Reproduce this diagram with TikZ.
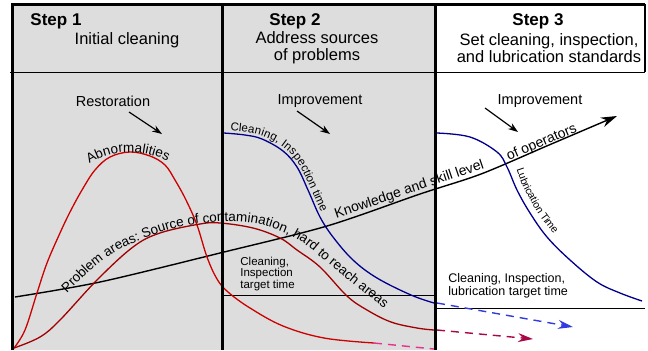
\documentclass[tikz,border=0pt]{standalone}
\usepackage{fontspec}
\setmainfont{Liberation Sans}
\usepackage{xcolor}
\usepackage{tikz}
\usetikzlibrary{arrows.meta,decorations.text}
\definecolor{panelgray}{RGB}{221,221,221}
\definecolor{abnred}{RGB}{204,0,0}
\definecolor{probred}{RGB}{160,0,0}
\definecolor{timeblue}{RGB}{0,0,140}
\definecolor{dashblue}{RGB}{50,60,220}
\definecolor{dashcrim}{RGB}{168,8,70}
\definecolor{dashpink}{RGB}{232,50,138}
\tikzset{
  frameline/.style={line width=1.5pt},
  thinline/.style={line width=0.5pt},
  stephd/.style={font=\fontsize{8.5}{10}\selectfont\bfseries, inner sep=0pt},
  stepsub/.style={font=\fontsize{8.25}{8.5}\selectfont, align=center, inner sep=0pt},
  lbl/.style={font=\fontsize{7.25}{8}\selectfont, inner sep=0pt},
  target/.style={font=\fontsize{5.75}{5.75}\selectfont, align=left, inner sep=0pt, anchor=west},
  target3/.style={font=\fontsize{6.25}{6.5}\selectfont, align=left, inner sep=0pt, anchor=west},
  impr/.style={-{Stealth[length=5pt,width=3.5pt]}, line width=0.6pt},
  abncurve/.style={line width=0.65pt, abnred},
  probcurve/.style={line width=0.65pt, probred},
  timecurve/.style={line width=0.65pt, timeblue},
  dashbase/.style={line width=0.7pt, dash pattern=on 4pt off 3pt},
  bluedash/.style={dashbase, dashblue, -{Stealth[length=7.5pt,width=4.5pt]}},
  crimdash/.style={dashbase, dashcrim, -{Stealth[length=7.5pt,width=4.5pt]}},
  pinkdash/.style={dashbase, dashpink},
  skillarrow/.style={-{Stealth[length=8pt,width=5pt]}, line width=0.7pt},
}
\newcommand{\curvefont}{\fontsize{6.75}{7.5}\selectfont}
\newcommand{\skillfont}{\fontsize{7}{7.5}\selectfont}
\newcommand{\ctfont}{\fontsize{5.75}{6}\selectfont}
\newcommand{\lubfont}{\fontsize{5.25}{6}\selectfont}

\begin{document}
\begin{tikzpicture}[x=0.5pt,y=-0.5pt]
\useasboundingbox (0,0) rectangle (648,350);
\fill[panelgray] (12,4) rectangle (435,350);
\draw[thinline] (10,72) -- (645,72);
\draw[thinline] (222,295) -- (435,295);
\draw[thinline] (435,308) -- (645,308);

\node[stephd] (s1) at (56,21) {Step 1};
\node[stepsub] (s1t) at (127,40) {Initial cleaning};
\node[stephd] (s2) at (295,21) {Step 2};
\node[stepsub] (s2t) at (317,48) {Address sources\\of problems};
\node[stephd] (s3) at (538,21) {Step 3};
\node[stepsub] (s3t) at (549,48.5) {Set cleaning, inspection,\\and lubrication standards};

\node[lbl] (rest) at (113,101) {Restoration};
\node[lbl] (imp2) at (320,101) {Improvement};
\node[lbl] (imp3) at (540,101) {Improvement};
\coordinate (ra) at (129,112);
\coordinate (rb) at (162,134);
\coordinate (ia) at (297,111);
\coordinate (ib) at (330,134);
\coordinate (ja) at (485,108);
\coordinate (jb) at (518,132);
\draw[impr] (ra) -- (rb);
\draw[impr] (ia) -- (ib);
\draw[impr] (ja) -- (jb);

\draw[skillarrow] plot[smooth] coordinates {(15,297) (100,282) (220,253) (327,226) (420,194) (481,174) (549,145) (617,116)};
\path[decorate, decoration={text along path, raise=2pt, text align={left indent=3pt}, text={|\skillfont|Knowledge and skill level}}]
  (332,224) -- (492,170);
\path[decorate, decoration={text along path, raise=2pt, text align={left indent=3pt}, text={|\skillfont|of operators}}]
  (505,167) -- (605,124);

\draw[abncurve] plot[smooth, tension=0.6] coordinates {(14,348) (25,330) (37,293) (47,263) (60,233) (70,212) (82,190) (95,170) (110,157) (130,152) (150,156) (165,165) (175,180) (186,200) (197,225) (207,257) (217,279) (228,292) (250,308) (283,326) (324,338) (374,343)};
\draw[pinkdash] (374,343) -- (434,349);
\path[decorate, decoration={text along path, text align=center, text={|\curvefont|Abnormalities}}]
  (82,170) .. controls (105,148) and (145,146) .. (176,166);

\draw[probcurve] plot[smooth, tension=0.6] coordinates {(14,348) (40,337) (60,320) (97,280) (133,247) (160,233) (200,224) (220,223) (253,228) (280,238) (297,250) (320,267) (347,296) (367,310) (391,322) (417,328) (434,330)};
\draw[crimdash] (437,330) -- (533,339);
\path[decorate, decoration={text along path, text align=center, text={|\curvefont|Problem areas: Source of contamination, hard to reach areas}}]
  (60,300) to[out=44, in=203] (133,243) to[out=23, in=184] (215,222) to[out=4, in=157] (285,233) to[out=-23, in=141] (330,265) to[out=-39, in=143] (392,314);

\draw[timecurve] plot[smooth, tension=0.6] coordinates {(224,133) (245,135) (262,139) (283,151) (297,167) (308,190) (320,217) (333,237) (353,260) (377,278) (411,295) (434,303)};
\draw[bluedash] (437,303) -- (573,327);
\path[decorate, decoration={text along path, raise=1.5pt, text align={left indent=3pt}, text={|\ctfont|Cleaning, Inspection time}}]
  (224,133) to[out=-5, in=141] (283,151) to[out=-39, in=115] (308,190) to[out=-65, in=127] (333,237);

\draw[timecurve] plot[smooth, tension=0.6] coordinates {(437,133) (470,137) (497,152) (507,167) (517,190) (530,213) (547,237) (570,260) (597,282) (620,293) (642,301)};
\path[decorate, decoration={text along path, raise=3.5pt, text align={left indent=12pt}, text={|\lubfont|Lubrication Time}}]
  (497,152) to[out=-39, in=117] (517,190) to[out=-63, in=130] (547,237) to[out=-50, in=147] (597,282);

\node[target] (tt2) at (240,274) {Cleaning,\\Inspection\\target time};
\node[target3] (tt3) at (448,285.5) {Cleaning, Inspection,\\lubrication target time};

\draw[frameline] (12,350) -- (12,4) -- (645,4);
\draw[frameline] (222,4) -- (222,350);
\draw[frameline] (435,4) -- (435,350);
\draw[line width=1.25pt] (645,4) -- (645,72);
\end{tikzpicture}
\end{document}
